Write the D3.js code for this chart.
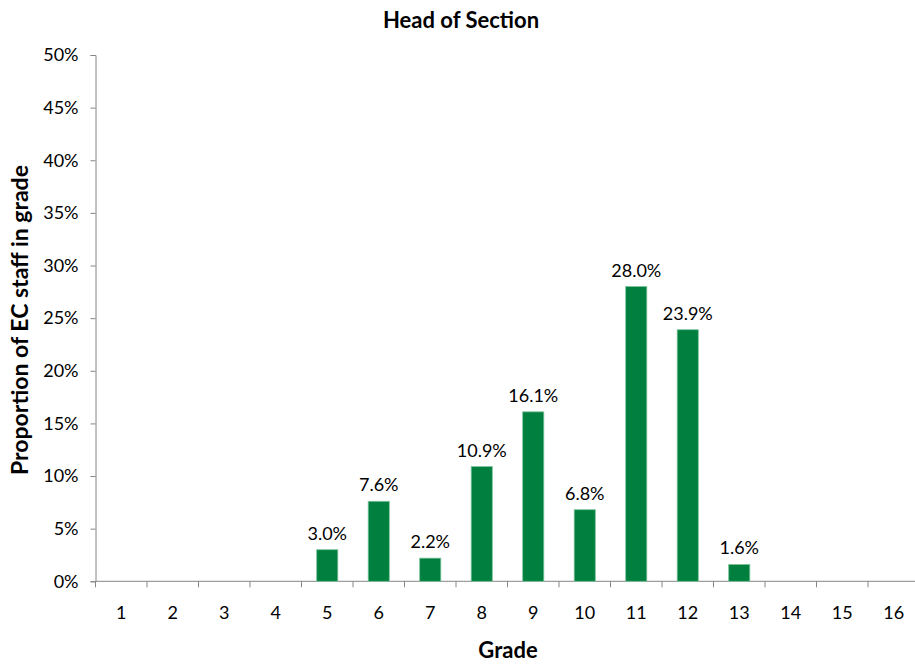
<!DOCTYPE html>
<html><head><meta charset="utf-8">
<script src="https://cdn.jsdelivr.net/npm/d3@7"></script>
<style>body{margin:0;background:#fff;} svg{display:block;font-family:Lato,"Open Sans",sans-serif;}</style>
</head><body>
<svg id="c" width="915" height="666"></svg>
<script>
const grades = ["1","2","3","4","5","6","7","8","9","10","11","12","13","14","15","16"];
const values = [null,null,null,null,3.0,7.6,2.2,10.9,16.1,6.8,28.0,23.9,1.6,null,null,null];
const yTicks = [0,5,10,15,20,25,30,35,40,45,50];
const title = "Head of Section";
const xTitle = "Grade";
const yTitle = "Proportion of EC staff in grade";

(function(){
const svg = d3.select("#c");
const mLeft = 95.5, mRight = 919.5, mTop = 55, mBottom = 581.3;
const x = d3.scaleBand().domain(grades).range([mLeft, mRight]).paddingInner(0.59).paddingOuter(0.295);
const y = d3.scaleLinear().domain([0, 50]).range([mBottom, mTop]);
const axisColor = "#868686";
const fs = 18;

// y axis
const ya = svg.append("g").attr("transform", `translate(${mLeft},0)`)
  .call(d3.axisLeft(y).tickValues(yTicks).tickSize(5).tickPadding(12).tickFormat(d => d + "%"));
ya.select(".domain").attr("stroke", axisColor);
ya.selectAll(".tick line").attr("stroke", axisColor);
ya.selectAll(".tick text").attr("font-size", fs).attr("fill", "#000").attr("font-family", "Lato,sans-serif");

// x axis with ticks at band boundaries
const xa = svg.append("g").attr("transform", `translate(0,${mBottom})`);
xa.append("line").attr("x1", mLeft).attr("x2", mRight).attr("stroke", axisColor);
const step = x.step();
const bounds = d3.range(grades.length + 1).map(i => mLeft + i * step);
xa.selectAll("line.t").data(bounds).join("line").attr("class", "t")
  .attr("x1", d => d).attr("x2", d => d).attr("y1", 0).attr("y2", 6).attr("stroke", axisColor);
xa.selectAll("text").data(grades).join("text")
  .attr("x", d => x(d) + x.bandwidth() / 2).attr("y", 38)
  .attr("text-anchor", "middle").attr("font-size", fs).attr("fill", "#000").text(d => d);

// bars
const data = grades.map((g, i) => ({g, v: values[i]})).filter(d => d.v != null);
svg.append("g").selectAll("rect").data(data).join("rect")
  .attr("x", d => x(d.g)).attr("width", x.bandwidth())
  .attr("y", d => y(d.v)).attr("height", d => mBottom - y(d.v))
  .attr("fill", "#007F3F").attr("stroke", "#7cc49c").attr("stroke-width", 0.8);

// labels
svg.append("g").selectAll("text").data(data).join("text")
  .attr("x", d => x(d.g) + x.bandwidth() / 2).attr("y", d => y(d.v) - 10)
  .attr("text-anchor", "middle").attr("font-size", fs).attr("fill", "#000")
  .text(d => d.v.toFixed(1) + "%");

// titles
svg.append("text").attr("x", 461).attr("y", 28).attr("text-anchor", "middle")
  .attr("font-size", 22).attr("font-weight", "bold").text(title);
svg.append("text").attr("x", 508).attr("y", 658).attr("text-anchor", "middle")
  .attr("font-size", 22).attr("font-weight", "bold").text(xTitle);
svg.append("text").attr("transform", "translate(28,320) rotate(-90)").attr("text-anchor", "middle")
  .attr("font-size", 23).attr("font-weight", "bold").text(yTitle);
})();
</script>
</body></html>
